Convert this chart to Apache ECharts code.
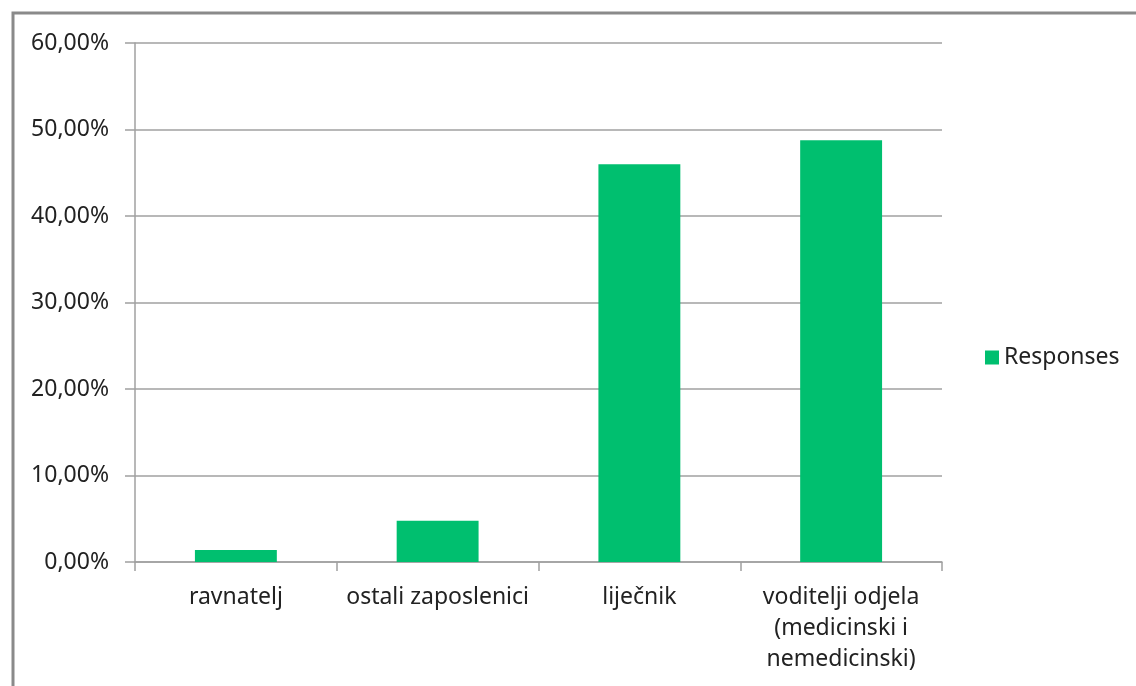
<!DOCTYPE html>
<html>
<head>
<meta charset="utf-8">
<script src="https://cdn.jsdelivr.net/npm/echarts@6/dist/echarts.min.js"></script>
<style>
html,body{margin:0;padding:0;background:#fff;}
#main{width:1136px;height:686px;}
</style>
</head>
<body>
<div id="main"></div>
<script>
const categories = ['ravnatelj', 'ostali zaposlenici', 'liječnik', 'voditelji odjela\n(medicinski i\nnemedicinski)'];
const responses = [1.39, 4.77, 45.98, 48.75];
const seriesName = 'Responses';
const yTicks = { min: 0, max: 60, interval: 10 };

const chart = echarts.init(document.getElementById('main'), null, { renderer: 'canvas' });
const font = '"Noto Sans", "Open Sans", sans-serif';
chart.setOption({
  animation: false,
  backgroundColor: '#ffffff',
  graphic: [{
    type: 'rect',
    shape: { x: 13, y: 13, width: 1300, height: 900 },
    style: { fill: 'none', stroke: '#8a8a8a', lineWidth: 3 },
    silent: true
  }],
  grid: { left: 135, right: 194, top: 43, bottom: 124, containLabel: false },
  legend: {
    data: [seriesName],
    left: 980, top: 341,
    itemWidth: 14, itemHeight: 14, itemGap: 8,
    icon: 'rect',
    textStyle: { fontFamily: font, fontSize: 23, color: '#222' }
  },
  xAxis: {
    type: 'category',
    data: categories,
    axisLine: { lineStyle: { color: '#a0a0a0', width: 1.5 } },
    axisTick: { show: true, length: 9, alignWithLabel: false, lineStyle: { color: '#a0a0a0', width: 1.5 } },
    axisLabel: { interval: 0, margin: 20, fontFamily: font, fontSize: 23, color: '#222', lineHeight: 31, align: 'center', verticalAlign: 'top' }
  },
  yAxis: {
    type: 'value',
    min: yTicks.min, max: yTicks.max, interval: yTicks.interval,
    axisLine: { show: true, lineStyle: { color: '#a0a0a0', width: 1.5 } },
    axisTick: { show: true, length: 10, lineStyle: { color: '#a0a0a0', width: 1.5 } },
    splitLine: { show: true, lineStyle: { color: '#a0a0a0', width: 1.5 } },
    axisLabel: {
      margin: 26, fontFamily: font, fontSize: 23, color: '#222',
      formatter: v => v.toFixed(2).replace('.', ',') + '%'
    }
  },
  series: [{
    name: seriesName,
    type: 'bar',
    data: responses,
    barWidth: '40.6%',
    itemStyle: { color: '#00bf6f' }
  }]
});
</script>
</body>
</html>
